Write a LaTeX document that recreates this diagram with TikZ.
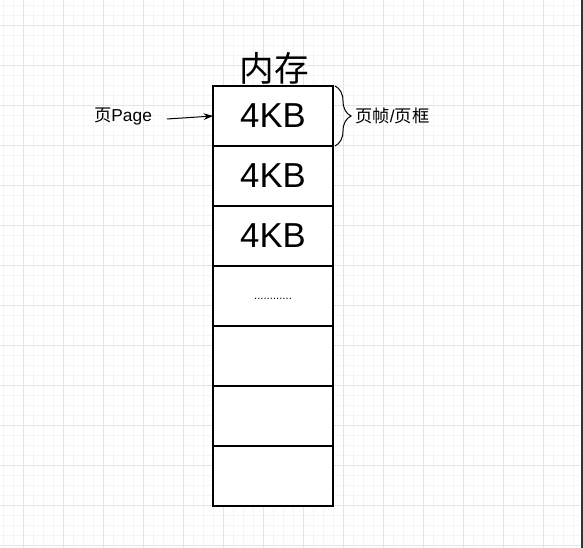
\documentclass[tikz,border=0pt]{standalone}
\usepackage{fontspec}
\setmainfont{Liberation Sans}
\newfontfamily\cjk{Noto Sans CJK SC}
\usetikzlibrary{positioning,arrows.meta,decorations.pathreplacing}
\definecolor{gridminor}{RGB}{245,245,245}
\definecolor{gridmajor}{RGB}{228,228,228}
\tikzset{
  cell/.style={draw, line width=1pt, minimum width=90pt, minimum height=45pt,
    inner sep=0pt, outer sep=0pt, fill=white},
  bigtext/.style={font=\fontsize{26pt}{30pt}\selectfont},
  smalltext/.style={font=\fontsize{13pt}{15pt}\selectfont, inner sep=0pt}
}
\begin{document}
\begin{tikzpicture}[x=0.75pt, y=-0.75pt]
        \useasboundingbox (0,0) rectangle (583,548);
        \fill [white] (0,0) rectangle (583,548);
        % background grid
        \foreach \x in {3,13,...,573} \draw [gridminor, line width=0.75pt] (\x+0.3,0) -- (\x+0.3,548);
        \foreach \y in {6,16,...,546} \draw [gridminor, line width=0.75pt] (0,\y) -- (580,\y);
        \foreach \x in {23,63,...,543} \draw [gridmajor, line width=0.75pt] (\x+0.3,0) -- (\x+0.3,548);
        \foreach \y in {26,66,...,546} \draw [gridmajor, line width=0.75pt] (0,\y) -- (580,\y);
        \fill [black!80] (581,0) rectangle (583,548);
        % memory cells
        \node [cell, bigtext] (cell1) at (273,116) {4KB};
        \node [cell, bigtext, below=0pt of cell1] (cell2) {4KB};
        \node [cell, bigtext, below=0pt of cell2] (cell3) {4KB};
        \node [cell, below=0pt of cell3] (cell4) {};
        \node [cell, below=0pt of cell4] (cell5) {};
        \node [cell, below=0pt of cell5] (cell6) {};
        \node [cell, below=0pt of cell6] (cell7) {};
        \node [font=\fontsize{8.5pt}{10pt}\selectfont, inner sep=0pt] (dots) at (cell4) {\vphantom{A}............};
        \node [font=\cjk\fontsize{26pt}{30pt}\selectfont] (title) at (274,68) {内存};
        % page arrow
        \node [smalltext] (page) at (123,117) {{\cjk 页}Page};
        \coordinate (pagetail) at (167,119);
        \draw [-{Stealth[length=7pt, width=5pt]}, line width=0.75pt] (pagetail) -- (cell1.west);
        % frame brace
        \coordinate (bracetop) at (335,86);
        \coordinate (bracebot) at (335,146);
        \draw [decorate, decoration={brace, amplitude=12pt}, line width=0.75pt] (bracetop) -- (bracebot);
        \node [smalltext, anchor=west] (frame) at (355,116) {{\cjk 页帧}/{\cjk 页框}};
    \end{tikzpicture}
\end{document}
